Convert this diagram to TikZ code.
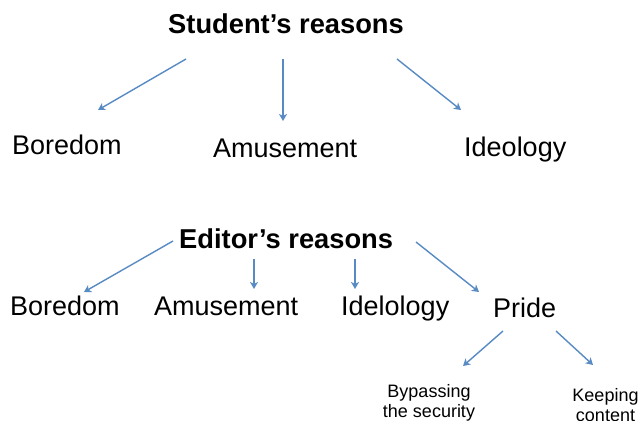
\documentclass[tikz,border=0pt]{standalone}
\usepackage{fontspec}
\setmainfont{Liberation Sans}
\usetikzlibrary{arrows.meta}
\definecolor{arrowblue}{RGB}{88,138,196}
\begin{document}
\begin{tikzpicture}[x=1pt,y=-1pt,
  title/.style={inner sep=0pt,anchor=base west,font=\fontsize{27.3}{32}\selectfont\bfseries},
  item/.style={inner sep=0pt,anchor=base west,font=\fontsize{27}{32}\selectfont},
  small/.style={inner sep=0pt,anchor=base,align=center,font=\fontsize{18}{20}\selectfont},
  arr/.style={draw=arrowblue,line width=1.4pt,-{Stealth[length=7pt,width=8pt,inset=2pt]}}]
\useasboundingbox (0,0) rectangle (639,420);
\fill[white] (0,0) rectangle (639,420);

% student's reasons
\node[title] (st) at (168,34) {Student’s reasons};
\node[item] (b1) at (12,154) {Boredom};
\node[item] (a1) at (213,157) {Amusement};
\node[item] (i1) at (464,156) {Ideology};

\draw[arr] ([shift={(18,25)}]st.base west) -- ([shift={(86,-44)}]b1.base west);
\draw[arr] ([shift={(115,25)}]st.base west) -- ([shift={(70,-36)}]a1.base west);
\draw[arr] ([shift={(229,25)}]st.base west) -- ([shift={(-3,-46)}]i1.base west);

% editor's reasons; the two-line labels sit on their last baseline
\node[title] (ed) at (179,248) {Editor’s reasons};
\node[item] (b2) at (10,315) {Boredom};
\node[item] (a2) at (154,315) {Amusement};
\node[item] (i2) at (341,315) {Idelology};
\node[item] (pr) at (493,317) {Pride};
\node[small] (bp) at (429,417) {Bypassing\\the security};
\node[small] (kc) at (605.5,421) {Keeping\\content};

\draw[arr] ([shift={(-6,-7)}]ed.base west) -- ([shift={(74,-23)}]b2.base west);
\draw[arr] ([shift={(75,11)}]ed.base west) -- ([shift={(100,-26)}]a2.base west);
\draw[arr] ([shift={(176,11)}]ed.base west) -- ([shift={(14,-26)}]i2.base west);
\draw[arr] ([shift={(237,-6)}]ed.base west) -- ([shift={(-14,-25)}]pr.base west);

\draw[arr] ([shift={(10,14)}]pr.base west) -- ([shift={(34,-51)}]bp.base);
\draw[arr] ([shift={(63,14)}]pr.base west) -- ([shift={(-12.5,-56)}]kc.base);
\end{tikzpicture}
\end{document}
